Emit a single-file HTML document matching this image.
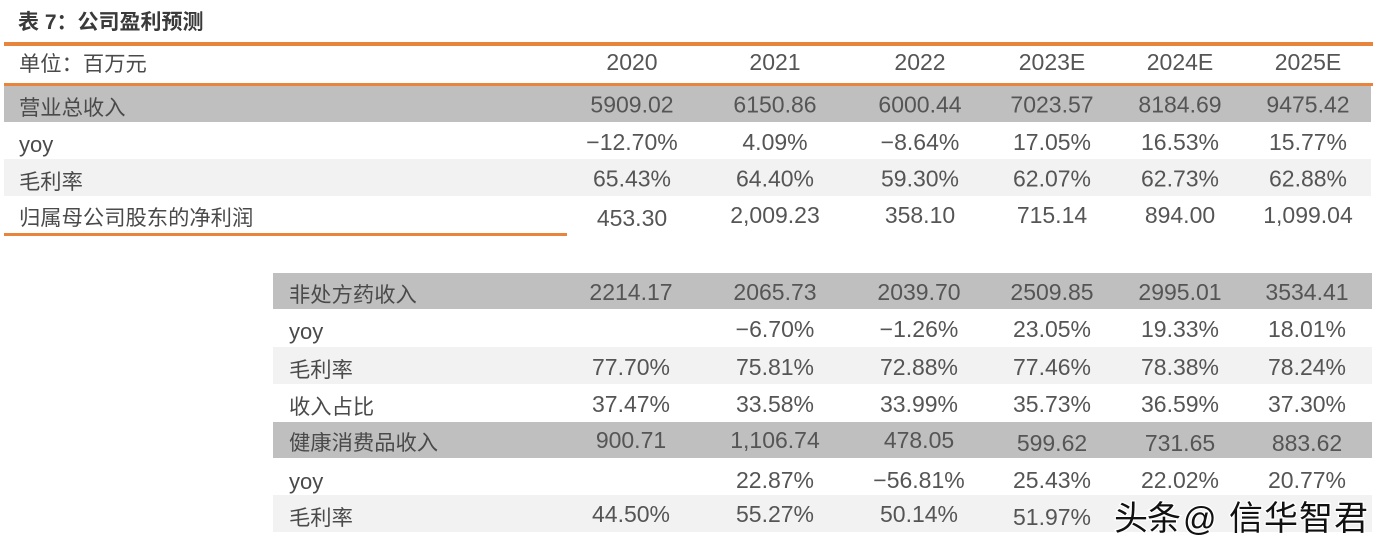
<!DOCTYPE html>
<html>
<head>
<meta charset="utf-8">
<style>
html,body{margin:0;padding:0;background:#fff;}
svg{display:block;}
.t{font-family:"Liberation Sans","Noto Sans CJK SC",sans-serif;}
.lab{font-family:"Liberation Sans","Noto Sans CJK SC",sans-serif;font-size:21.3px;fill:#4a4a4a;}
.num{font-family:"Liberation Sans","Noto Sans CJK SC",sans-serif;font-size:23px;fill:#555555;text-anchor:middle;}
.wm{font-family:"Noto Sans CJK SC","WenQuanYi Zen Hei",sans-serif;font-size:34px;fill:#111;stroke:#fff;stroke-width:2.5px;paint-order:stroke;}
</style>
</head>
<body>
<svg width="1386" height="551" viewBox="0 0 1386 551" xmlns="http://www.w3.org/2000/svg">
  <rect x="0" y="0" width="1386" height="551" fill="#fff"/>
  <!-- title -->
  <text x="18" y="29" class="t" style="font-size:21px;font-weight:bold;fill:#3a3a3a" xml:space="preserve">表 7：公司盈利预测</text>

  <!-- top table backgrounds -->
  <rect x="4" y="42" width="1369" height="4" fill="#E8853D"/>
  <rect x="4" y="83" width="1369" height="3" fill="#E8853D"/>
  <rect x="4" y="86" width="1367" height="36" fill="#BFBFBF"/>
  <rect x="4" y="159" width="1367" height="37" fill="#F2F2F2"/>
  <rect x="4" y="233" width="563" height="3" fill="#E8853D"/>

  <!-- header -->
  <text x="19" y="71" class="lab">单位：百万元</text>
  <text x="632" y="70" class="num">2020</text>
  <text x="775" y="70" class="num">2021</text>
  <text x="920" y="70" class="num">2022</text>
  <text x="1052" y="70" class="num">2023E</text>
  <text x="1180" y="70" class="num">2024E</text>
  <text x="1308" y="70" class="num">2025E</text>

  <!-- 营业总收入 -->
  <text x="19" y="115" class="lab">营业总收入</text>
  <text x="632" y="112.5" class="num">5909.02</text>
  <text x="775" y="112.5" class="num">6150.86</text>
  <text x="920" y="112.5" class="num">6000.44</text>
  <text x="1052" y="112.5" class="num">7023.57</text>
  <text x="1180" y="112.5" class="num">8184.69</text>
  <text x="1308" y="112.5" class="num">9475.42</text>

  <!-- yoy -->
  <text x="19" y="152" class="lab" style="font-size:22px">yoy</text>
  <text x="632" y="150" class="num">−12.70%</text>
  <text x="775" y="150" class="num">4.09%</text>
  <text x="920" y="150" class="num">−8.64%</text>
  <text x="1052" y="150" class="num">17.05%</text>
  <text x="1180" y="150" class="num">16.53%</text>
  <text x="1308" y="150" class="num">15.77%</text>

  <!-- 毛利率 -->
  <text x="19" y="189" class="lab">毛利率</text>
  <text x="632" y="186.5" class="num">65.43%</text>
  <text x="775" y="186.5" class="num">64.40%</text>
  <text x="920" y="186.5" class="num">59.30%</text>
  <text x="1052" y="186.5" class="num">62.07%</text>
  <text x="1180" y="186.5" class="num">62.73%</text>
  <text x="1308" y="186.5" class="num">62.88%</text>

  <!-- 归属 -->
  <text x="19" y="225" class="lab">归属母公司股东的净利润</text>
  <text x="632" y="226" class="num">453.30</text>
  <text x="775" y="223" class="num">2,009.23</text>
  <text x="920" y="223" class="num">358.10</text>
  <text x="1052" y="223" class="num">715.14</text>
  <text x="1180" y="223" class="num">894.00</text>
  <text x="1308" y="223" class="num">1,099.04</text>

  <!-- bottom table backgrounds -->
  <rect x="273" y="273" width="1099" height="36" fill="#BFBFBF"/>
  <rect x="273" y="347" width="1099" height="37" fill="#F2F2F2"/>
  <rect x="273" y="422" width="1099" height="36" fill="#BFBFBF"/>
  <rect x="273" y="495" width="1099" height="37" fill="#F2F2F2"/>

  <!-- 非处方药收入 -->
  <text x="289" y="302" class="lab">非处方药收入</text>
  <text x="631" y="300" class="num">2214.17</text>
  <text x="775" y="300" class="num">2065.73</text>
  <text x="919" y="300" class="num">2039.70</text>
  <text x="1052" y="300" class="num">2509.85</text>
  <text x="1180" y="300" class="num">2995.01</text>
  <text x="1307" y="300" class="num">3534.41</text>

  <!-- yoy -->
  <text x="289" y="339" class="lab" style="font-size:22px">yoy</text>
  <text x="775" y="337" class="num">−6.70%</text>
  <text x="919" y="337" class="num">−1.26%</text>
  <text x="1052" y="337" class="num">23.05%</text>
  <text x="1180" y="337" class="num">19.33%</text>
  <text x="1307" y="337" class="num">18.01%</text>

  <!-- 毛利率 -->
  <text x="289" y="377" class="lab">毛利率</text>
  <text x="631" y="375" class="num">77.70%</text>
  <text x="775" y="375" class="num">75.81%</text>
  <text x="919" y="375" class="num">72.88%</text>
  <text x="1052" y="375" class="num">77.46%</text>
  <text x="1180" y="375" class="num">78.38%</text>
  <text x="1307" y="375" class="num">78.24%</text>

  <!-- 收入占比 -->
  <text x="289" y="414" class="lab">收入占比</text>
  <text x="631" y="412" class="num">37.47%</text>
  <text x="775" y="412" class="num">33.58%</text>
  <text x="919" y="412" class="num">33.99%</text>
  <text x="1052" y="412" class="num">35.73%</text>
  <text x="1180" y="412" class="num">36.59%</text>
  <text x="1307" y="412" class="num">37.30%</text>

  <!-- 健康消费品收入 -->
  <text x="289" y="450" class="lab">健康消费品收入</text>
  <text x="631" y="448" class="num">900.71</text>
  <text x="775" y="448" class="num">1,106.74</text>
  <text x="919" y="448" class="num">478.05</text>
  <text x="1052" y="451" class="num">599.62</text>
  <text x="1180" y="451" class="num">731.65</text>
  <text x="1307" y="451" class="num">883.62</text>

  <!-- yoy -->
  <text x="289" y="489" class="lab" style="font-size:22px">yoy</text>
  <text x="775" y="488" class="num">22.87%</text>
  <text x="919" y="488" class="num">−56.81%</text>
  <text x="1052" y="488" class="num">25.43%</text>
  <text x="1180" y="488" class="num">22.02%</text>
  <text x="1307" y="488" class="num">20.77%</text>

  <!-- 毛利率 -->
  <text x="289" y="525" class="lab">毛利率</text>
  <text x="631" y="522" class="num">44.50%</text>
  <text x="775" y="522" class="num">55.27%</text>
  <text x="919" y="522" class="num">50.14%</text>
  <text x="1052" y="525" class="num">51.97%</text>

  <!-- watermark -->
  <text x="1114" y="530" class="wm">头</text>
  <text x="1147" y="530" class="wm">条</text>
  <text x="1183" y="530" class="wm" style="font-family:'Liberation Sans',sans-serif;font-size:33px">@</text>
  <text x="1229" y="530" class="wm">信</text>
  <text x="1264" y="530" class="wm">华</text>
  <text x="1299" y="530" class="wm">智</text>
  <text x="1334" y="530" class="wm">君</text>
</svg>
</body>
</html>
